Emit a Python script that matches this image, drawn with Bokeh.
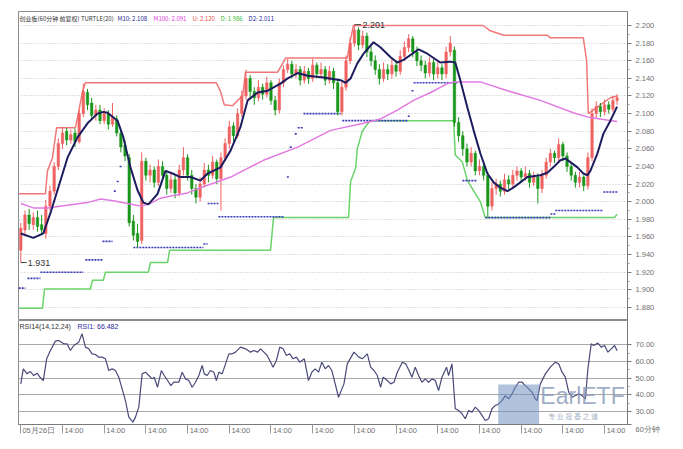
from bokeh.plotting import figure
from bokeh.layouts import column
from bokeh.models import Range1d, FixedTicker, Label, NumeralTickFormatter
from bokeh.core.properties import value
from bokeh.embed import file_html
from bokeh.resources import INLINE

# ---------------- data ----------------
O = [1.945, 1.968, 1.985, 1.974, 1.982, 1.974, 1.964, 1.995, 2.012, 2.040,
     2.066, 2.080, 2.070, 2.078, 2.068, 2.100, 2.124, 2.112, 2.098, 2.104,
     2.092, 2.100, 2.088, 2.094, 2.078, 2.064, 2.050, 1.978, 1.964, 1.956,
     2.046, 2.030, 2.036, 2.022, 2.040, 2.030, 2.015, 2.025, 2.010, 2.036,
     2.050, 2.030, 2.015, 2.005, 2.020, 2.036, 2.030, 2.045, 2.026, 2.050,
     2.066, 2.086, 2.075, 2.100, 2.120, 2.140, 2.125, 2.118, 2.130, 2.122,
     2.135, 2.115, 2.104, 2.135, 2.150, 2.156, 2.145, 2.150, 2.138, 2.148,
     2.140, 2.155, 2.145, 2.150, 2.138, 2.148, 2.135, 2.102, 2.130, 2.160,
     2.180, 2.195, 2.178, 2.188, 2.170, 2.160, 2.150, 2.140, 2.150, 2.145,
     2.155, 2.148, 2.165, 2.175, 2.185, 2.170, 2.160, 2.155, 2.146, 2.158,
     2.145, 2.152, 2.145, 2.170, 2.172, 2.090, 2.075, 2.060, 2.045, 2.055,
     2.035, 2.040, 2.030, 1.995, 2.015, 2.020, 2.012, 2.025, 2.020, 2.030,
     2.035, 2.028, 2.032, 2.022, 2.028, 2.015, 2.030, 2.045, 2.055, 2.050,
     2.065, 2.052, 2.040, 2.030, 2.022, 2.028, 2.018, 2.050, 2.100, 2.108,
     2.102, 2.110, 2.105, 2.115]
H = [1.976, 1.990, 1.992, 1.988, 1.990, 1.985, 2.002, 2.018, 2.045, 2.072,
     2.085, 2.084, 2.082, 2.083, 2.104, 2.134, 2.128, 2.118, 2.110, 2.110,
     2.106, 2.104, 2.112, 2.098, 2.082, 2.070, 2.054, 1.985, 1.975, 2.056,
     2.050, 2.042, 2.040, 2.048, 2.046, 2.036, 2.032, 2.030, 2.042, 2.062,
     2.054, 2.036, 2.020, 2.028, 2.044, 2.042, 2.052, 2.048, 2.056, 2.072,
     2.092, 2.090, 2.106, 2.126, 2.150, 2.144, 2.130, 2.138, 2.134, 2.142,
     2.138, 2.120, 2.140, 2.155, 2.162, 2.160, 2.156, 2.154, 2.154, 2.152,
     2.162, 2.158, 2.158, 2.154, 2.154, 2.152, 2.140, 2.136, 2.166, 2.186,
     2.201, 2.198, 2.194, 2.192, 2.176, 2.166, 2.156, 2.158, 2.156, 2.162,
     2.160, 2.172, 2.182, 2.190, 2.188, 2.176, 2.166, 2.160, 2.164, 2.162,
     2.160, 2.156, 2.176, 2.188, 2.176, 2.096, 2.080, 2.066, 2.062, 2.058,
     2.048, 2.046, 2.034, 2.022, 2.026, 2.024, 2.032, 2.030, 2.036, 2.040,
     2.038, 2.040, 2.036, 2.034, 2.032, 2.036, 2.050, 2.060, 2.058, 2.072,
     2.068, 2.056, 2.044, 2.034, 2.034, 2.030, 2.056, 2.106, 2.114, 2.112,
     2.116, 2.114, 2.120, 2.122]
L = [1.931, 1.962, 1.968, 1.968, 1.966, 1.962, 1.958, 1.990, 2.008, 2.036,
     2.060, 2.064, 2.066, 2.062, 2.066, 2.096, 2.104, 2.094, 2.092, 2.088,
     2.088, 2.082, 2.085, 2.074, 2.056, 2.046, 1.972, 1.956, 1.948, 1.952,
     2.024, 2.022, 2.016, 2.018, 2.024, 2.008, 2.010, 2.004, 2.006, 2.030,
     2.024, 2.008, 1.998, 2.000, 2.016, 2.022, 2.026, 2.020, 1.990, 2.046,
     2.060, 2.068, 2.072, 2.096, 2.116, 2.118, 2.110, 2.114, 2.116, 2.118,
     2.110, 2.098, 2.100, 2.130, 2.146, 2.140, 2.140, 2.132, 2.134, 2.134,
     2.136, 2.140, 2.140, 2.132, 2.134, 2.128, 2.098, 2.098, 2.126, 2.156,
     2.176, 2.172, 2.174, 2.164, 2.154, 2.144, 2.133, 2.136, 2.138, 2.140,
     2.142, 2.144, 2.160, 2.170, 2.164, 2.154, 2.148, 2.140, 2.142, 2.138,
     2.140, 2.138, 2.140, 2.165, 2.085, 2.068, 2.052, 2.040, 2.040, 2.030,
     2.030, 2.024, 1.982, 1.990, 2.008, 2.006, 2.008, 2.014, 2.016, 2.024,
     2.022, 2.024, 2.016, 2.018, 1.998, 2.010, 2.026, 2.040, 2.044, 2.046,
     2.046, 2.034, 2.024, 2.016, 2.016, 2.012, 2.014, 2.046, 2.094, 2.096,
     2.098, 2.100, 2.102, 2.110]
C = [1.970, 1.985, 1.975, 1.982, 1.972, 1.968, 1.995, 2.012, 2.040, 2.066,
     2.078, 2.070, 2.076, 2.068, 2.100, 2.125, 2.110, 2.098, 2.104, 2.092,
     2.100, 2.088, 2.096, 2.078, 2.062, 2.052, 1.976, 1.962, 1.955, 2.046,
     2.030, 2.036, 2.022, 2.040, 2.030, 2.015, 2.025, 2.010, 2.036, 2.050,
     2.030, 2.015, 2.005, 2.020, 2.036, 2.030, 2.045, 2.026, 2.050, 2.066,
     2.085, 2.075, 2.100, 2.120, 2.140, 2.125, 2.118, 2.130, 2.122, 2.135,
     2.115, 2.104, 2.135, 2.150, 2.156, 2.145, 2.150, 2.138, 2.148, 2.140,
     2.155, 2.145, 2.150, 2.138, 2.148, 2.135, 2.102, 2.130, 2.160, 2.180,
     2.195, 2.178, 2.188, 2.170, 2.160, 2.150, 2.140, 2.150, 2.145, 2.155,
     2.148, 2.165, 2.175, 2.185, 2.170, 2.160, 2.155, 2.146, 2.158, 2.145,
     2.152, 2.145, 2.170, 2.180, 2.090, 2.075, 2.060, 2.045, 2.055, 2.035,
     2.040, 2.030, 1.995, 2.015, 2.020, 2.012, 2.025, 2.020, 2.030, 2.035,
     2.028, 2.032, 2.022, 2.028, 2.015, 2.030, 2.045, 2.055, 2.050, 2.065,
     2.052, 2.040, 2.030, 2.022, 2.028, 2.018, 2.050, 2.100, 2.108, 2.102,
     2.110, 2.105, 2.115, 2.118]

# M10 (navy) read at bar positions
m10_bar = [0, 3.0, 5.4, 7.1, 8.8, 11.2, 13.6, 16.0, 18.4, 19.8, 20.8, 23.2, 24.6,
           26.3, 28.0, 29.4, 30.6, 32.8, 34.7, 36.4, 38.3, 40.7, 43.1, 44.8, 47.9,
           50.3, 52.7, 54.4, 56.8, 59.2, 62.3, 64.0, 66.4, 68.8, 72.6, 76.7, 77.9,
           79.1, 80.7, 82.2, 84.6, 86.3, 88.7, 90.3, 91.8, 95.4, 97.5, 100.6, 103.0,
           104.2, 105.4, 107.1, 108.6, 110.2, 111.9, 113.4, 115.0, 116.7, 118.1,
           119.8, 121.5, 124.6, 126.3, 127.7, 129.4, 130.6, 131.8, 133.5, 134.9,
           135.9, 136.6, 138.3, 139.7, 141.4, 143.0]
m10_val = [1.964, 1.959, 1.964, 1.987, 2.013, 2.050, 2.073, 2.089, 2.100, 2.102,
           2.101, 2.092, 2.073, 2.039, 2.013, 1.999, 1.997, 2.009, 2.035, 2.032,
           2.028, 2.028, 2.024, 2.032, 2.039, 2.058, 2.085, 2.115, 2.124, 2.126,
           2.134, 2.140, 2.146, 2.143, 2.141, 2.138, 2.135, 2.140, 2.157, 2.168,
           2.181, 2.175, 2.164, 2.158, 2.161, 2.173, 2.168, 2.158, 2.159, 2.158,
           2.138, 2.107, 2.081, 2.055, 2.032, 2.022, 2.016, 2.012, 2.016, 2.022,
           2.028, 2.030, 2.033, 2.039, 2.047, 2.049, 2.045, 2.039, 2.032, 2.030,
           2.035, 2.055, 2.077, 2.092, 2.108]

# M100 (violet)
m100_bar = [0, 3.0, 6.4, 11.2, 16.0, 19.1, 22.2, 25.6, 28.7, 30.6, 33.5, 36.6,
            40.0, 43.1, 46.2, 50.3, 58.2, 66.4, 74.3, 82.2, 86.3, 90.3, 94.2, 98.3,
            102.3, 103.8, 110.2, 116.7, 124.6, 132.5, 136.1, 143.0]
m100_val = [1.998, 1.993, 1.993, 1.996, 1.999, 2.003, 2.001, 1.998, 1.995, 1.997,
            2.004, 2.007, 2.010, 2.016, 2.021, 2.028, 2.047, 2.062, 2.081, 2.089,
            2.094, 2.104, 2.115, 2.124, 2.134, 2.136, 2.136, 2.126, 2.115, 2.101,
            2.096, 2.091]

# Turtle upper channel U (red)
u_bar = [-0.5, 5.9, 6.4, 7.6, 8.6, 13.1, 13.8, 14.8, 15.5, 46.9, 47.9, 48.8, 50.8,
         52.0, 53.2, 53.9, 61.6, 63.5, 78.3, 79.1, 79.8, 110.9, 112.6, 115.8, 126.3,
         127.0, 134.9, 135.7, 136.1, 139.0, 141.4, 143.0]
u_val = [2.009, 2.009, 2.035, 2.050, 2.084, 2.084, 2.100, 2.125, 2.135, 2.135,
         2.125, 2.110, 2.109, 2.115, 2.120, 2.147, 2.147, 2.163, 2.163, 2.185,
         2.200, 2.200, 2.194, 2.189, 2.189, 2.186, 2.186, 2.160, 2.100, 2.110,
         2.118, 2.120]

# Turtle lower channel D (green)
d_bar = [-0.5, 5.2, 5.7, 16.7, 17.2, 19.8, 20.3, 30.6, 31.1, 35.2, 35.7, 59.9,
         60.6, 78.6, 79.1, 80.3, 80.7, 81.9, 83.1, 83.8, 103.8, 104.2, 105.9,
         107.1, 110.2, 111.4, 142.4, 143.0]
d_val = [1.879, 1.879, 1.901, 1.901, 1.911, 1.911, 1.920, 1.920, 1.931, 1.931,
         1.945, 1.945, 1.982, 1.982, 2.023, 2.038, 2.060, 2.080, 2.088, 2.092,
         2.092, 2.053, 2.045, 2.024, 2.000, 1.982, 1.982, 1.986]

# D2 (blue dotted pieces)
d2_x0 = [-0.5, 1.6, 4.7, 15.5, 19.6, 22.3, 23.0, 23.7, 27.0, 43.8, 44.8, 47.4, 63.8,
         64.5, 65.7, 66.4, 67.8, 77.1, 92.8, 93.7, 94.2, 105.9, 111.4, 127.0,
         128.2, 139.7]
d2_x1 = [1.1, 4.7, 15.0, 19.6, 22.0, 22.9, 23.6, 24.3, 43.8, 44.8, 47.4, 63.0, 64.4,
         65.1, 66.3, 67.6, 76.7, 92.7, 93.4, 94.3, 104.7, 109.5, 127.0, 128.2,
         139.5, 143.3]
d2_val = [1.902, 1.913, 1.920, 1.934, 1.955, 2.012, 2.023, 2.040, 1.948, 1.952,
          1.998, 1.983, 2.028, 2.062, 2.077, 2.084, 2.100, 2.092, 2.097, 2.126,
          2.135, 2.024, 1.982, 1.986, 1.990, 2.011]

# RSI
rsi_bar = [0, 0.6, 1.5, 2.3, 3.1, 3.9, 4.6, 5.4, 6.2, 7.1, 8.3, 9.1, 10.3, 11.1, 11.9,
           12.7, 13.9, 14.7, 15.5, 16.3, 17.1, 17.9, 18.7, 19.5, 20.3, 21.1, 21.9,
           22.7, 23.5, 24.3, 25.1, 25.9, 26.9, 27.5, 28.3, 29.1, 29.9, 30.7, 31.5,
           32.0, 32.8, 33.7, 34.4, 35.2, 36.0, 36.7, 37.9, 38.7, 39.5, 40.3, 41.1,
           41.9, 42.7, 43.5, 44.0, 44.7, 45.5, 46.3, 46.9, 47.5, 48.3, 49.1, 49.9,
           50.7, 51.5, 52.7, 53.9, 55.1, 55.9, 56.8, 57.5, 58.3, 59.1, 59.7, 60.5,
           61.3, 62.1, 62.9, 63.7, 64.5, 65.3, 66.1, 66.9, 68.0, 69.0, 69.8, 70.6,
           71.4, 72.2, 73.0, 73.8, 74.6, 75.4, 76.2,
           77.5, 78.3, 79.9, 81.1, 81.9, 83.1, 83.9, 84.7, 85.5, 86.3,
           86.9, 87.9, 88.7, 89.5, 90.3, 91.5, 92.3, 93.1, 93.8, 94.6,
           95.4, 96.2, 97.0, 97.8, 98.6, 99.4, 100.2, 101.0, 102.1, 102.6,
           103.4, 104.2, 105.0, 105.8, 106.6, 107.4, 108.2, 109.0, 109.8, 110.6,
           111.4, 112.2, 113.0, 113.8, 114.6, 115.4, 116.2, 117.0, 117.8, 118.6,
           119.4, 120.2, 121.0, 121.8, 122.6, 123.4, 123.8, 124.6, 125.8, 127.0,
           128.2, 129.0, 129.8, 130.6, 131.4, 132.2, 133.0, 133.8, 134.6, 135.4,
           136.0, 136.8, 137.4, 138.4, 139.2, 140.0, 140.8, 141.6, 142.4, 143.0]
rsi_val = [46.6, 55.6, 52.6, 54.0, 51.6, 53.0, 50.6, 48.6, 61.6, 66.6,
           72.2, 72.6, 70.6, 70.6, 66.6, 69.6, 71.6, 76.6, 68.6, 67.6,
           64.6, 64.2, 62.6, 62.6, 61.6, 54.6, 55.6, 54.6, 50.6, 43.6,
           36.6, 26.7, 23.7, 26.7, 32.7, 52.6, 53.6, 51.6, 49.6, 50.6,
           44.6, 54.6, 51.6, 48.6, 45.6, 47.6, 47.6, 53.6, 49.6, 48.6,
           44.6, 47.6, 51.6, 57.6, 52.6, 51.6, 54.6, 53.6, 48.6, 53.6,
           52.6, 58.6, 64.6, 64.6, 65.6, 68.6, 67.6, 65.6, 66.6, 65.6,
           67.6, 65.6, 63.6, 60.6, 56.6, 60.6, 68.6, 67.6, 63.6, 64.6,
           61.6, 62.6, 59.6, 61.6, 48.6, 53.6, 55.6, 53.6, 59.6, 55.6,
           57.6, 54.6, 46.6, 38.6,
           46.6, 58.6, 65.6, 62.6, 61.6, 64.6, 56.6, 54.6, 51.6, 44.6,
           50.6, 48.6, 46.6, 47.6, 53.6, 59.6, 58.6, 54.6, 50.6, 56.6,
           51.6, 47.6, 49.6, 47.6, 49.6, 48.6, 42.6, 50.6, 56.6, 51.6,
           58.6, 31.7, 30.7, 28.7, 25.7, 30.7, 29.7, 32.7, 30.7, 27.7,
           24.7, 25.7, 31.7, 33.7, 34.6, 36.6, 39.6, 37.6, 40.6, 44.6,
           47.6, 47.6, 45.6, 43.6, 41.6, 37.6, 36.6, 46.6, 52.6, 56.6,
           59.6, 58.6, 53.6, 50.6, 41.6, 38.6, 39.6, 40.6, 39.6, 37.6,
           55.6, 70.6, 69.6, 71.0, 68.6, 69.6, 65.6, 67.6, 69.6, 66.482]

price_ticks = [1.880, 1.900, 1.920, 1.940, 1.960, 1.980, 2.000, 2.020, 2.040,
               2.060, 2.080, 2.100, 2.120, 2.140, 2.160, 2.180, 2.200]
rsi_ticks = [30, 40, 50, 60, 70]
x_tick_bars = [0, 10, 20, 30, 40, 50, 60, 70, 80, 90, 100, 110, 120, 130, 140]
x_tick_labels = ["05月26日"] + ["14:00"] * 14
period_label = "60分钟"

# ---------------- styling ----------------
UP = "#ef6262"
DN = "#1a961a"
FONT = "Liberation Sans"
CJK = "Noto Sans CJK SC"
BAR_PX = 609 / 146.05          # pixels per bar
LABEL_SHIFT_PX = [18] + [11.5] * 14   # half label width + gap, so labels start at the tick

xr = Range1d(-0.55, 145.5)

p1 = figure(frame_width=609, frame_height=309, min_border_left=18, min_border_right=40,
            min_border_top=11, min_border_bottom=0, x_range=xr,
            y_range=Range1d(1.8652, 2.2159), y_axis_location="right",
            x_axis_location=None, toolbar_location=None, output_backend="svg")
p1.outline_line_color = "#8c8c8c"
p1.xgrid.grid_line_color = None
p1.ygrid.ticker = FixedTicker(ticks=price_ticks)
p1.ygrid.grid_line_color = "#c4c4c4"
p1.ygrid.grid_line_dash = "1 2"
yax = p1.yaxis[0]
yax.ticker = FixedTicker(ticks=price_ticks,
                         minor_ticks=[t + 0.01 for t in price_ticks[:-1]])
yax.formatter = NumeralTickFormatter(format="0.000")
yax.major_label_text_font = FONT
yax.major_label_text_font_size = "7.5px"
yax.major_label_text_color = "#707070"
yax.axis_line_color = "#7a7a7a"
yax.major_tick_line_color = "#7a7a7a"
yax.minor_tick_line_color = "#9a9a9a"
yax.major_tick_out = 4
yax.major_tick_in = 0
yax.minor_tick_out = 2
yax.minor_tick_in = 0
yax.major_label_standoff = 4

# channel lines
p1.line(u_bar, u_val, line_color="#f07878", line_width=1.5)
p1.line(d_bar, d_val, line_color="#6ad46a", line_width=1.5)
p1.segment(x0=d2_x0, y0=d2_val, x1=d2_x1, y1=d2_val, line_color="#3a3ab8",
           line_width=1.6, line_dash="2 1")

# candles
xs = list(range(len(C)))
cols = [UP if c >= o else DN for o, c in zip(O, C)]
tops = [max(o, c) for o, c in zip(O, C)]
bots = [min(o, c) for o, c in zip(O, C)]
p1.segment(x0=xs, y0=L, x1=xs, y1=H, line_color=cols, line_width=1)
p1.vbar(x=xs, width=0.6, top=tops, bottom=bots, fill_color=cols, line_color=cols,
        line_width=0.5)

# moving averages
p1.line(m100_bar, m100_val, line_color="#e27ae2", line_width=1.5)
p1.line(m10_bar, m10_val, line_color="#1c1c5e", line_width=2)

# high / low markers
hi_i = max(range(len(H)), key=lambda i: H[i])
lo_i = min(range(len(L)), key=lambda i: L[i])
p1.segment(x0=[hi_i], y0=[H[hi_i]], x1=[hi_i + 1.6], y1=[H[hi_i]], line_color="#444444",
           line_width=1)
p1.text(x=[hi_i], y=[H[hi_i]], text=[f"{H[hi_i]:.3f}"], x_offset=8,
        text_baseline="middle", text_font=value(FONT), text_font_size="9px",
        text_color="#333333")
p1.segment(x0=[lo_i], y0=[L[lo_i]], x1=[lo_i + 1.4], y1=[L[lo_i]], line_color="#444444",
           line_width=1)
p1.text(x=[lo_i], y=[L[lo_i]], text=[f"{L[lo_i]:.3f}"], x_offset=7,
        text_baseline="middle", text_font=value(FONT), text_font_size="9px",
        text_color="#333333")

# title pieces
title_parts = ["创业板(60分钟 前复权) TURTLE(20)",
               f"M10: {m10_val[-1]:.3f}", f"M100: {m100_val[-1]:.3f}",
               f"U: {u_val[-1]:.3f}", f"D: {d_val[-1]:.3f}", f"D2: {d2_val[-1]:.3f}"]
title_colors = ["#333333", "#22228a", "#e040e0", "#f05050", "#3cbc3c", "#2a2aa0"]
title_offsets = [0, 98, 134, 173, 201, 229]
for t, c, off in zip(title_parts, title_colors, title_offsets):
    p1.text(x=[-0.3], y=[2.2079], text=[t], x_offset=off, text_baseline="middle",
            text_font=value(CJK), text_font_size="6px", text_color=c)

# ---------------- RSI panel ----------------
p2 = figure(frame_width=609, frame_height=104, min_border_left=18, min_border_right=40,
            min_border_top=0, min_border_bottom=4, x_range=xr,
            y_range=Range1d(22.28, 84.55), y_axis_location="right",
            toolbar_location=None, output_backend="svg")
p2.outline_line_color = "#8c8c8c"
p2.xgrid.grid_line_color = None
p2.ygrid.ticker = FixedTicker(ticks=rsi_ticks)
p2.ygrid.grid_line_color = "#a8a8a8"
p2.ygrid.grid_line_width = 1
ry = p2.yaxis[0]
ry_ticks = rsi_ticks + [22.3]
ry.ticker = FixedTicker(ticks=ry_ticks, minor_ticks=[t + 5 for t in rsi_ticks[:-1]])
ry.formatter = NumeralTickFormatter(format="0.00")
ry.major_label_overrides = {22.3: "\n" + period_label}
ry.major_label_text_font = FONT
ry.major_label_text_font_size = "7.5px"
ry.major_label_text_color = "#707070"
ry.axis_line_color = "#7a7a7a"
ry.major_tick_line_color = "#7a7a7a"
ry.minor_tick_line_color = "#9a9a9a"
ry.major_tick_out = 4
ry.major_tick_in = 0
ry.minor_tick_out = 2
ry.minor_tick_in = 0
ry.major_label_standoff = 4

# x axis: labels centred just right of the visible tick marks (drawn as minor ticks)
xa = p2.xaxis[0]
label_centres = [b + s / BAR_PX for b, s in zip(x_tick_bars, LABEL_SHIFT_PX)]
xa.ticker = FixedTicker(ticks=label_centres, minor_ticks=x_tick_bars)
xa.major_label_overrides = {c: s for c, s in zip(label_centres, x_tick_labels)}
xa.major_label_text_font = FONT
xa.major_label_text_font_size = "7.5px"
xa.major_label_text_color = "#707070"
xa.axis_line_color = "#7a7a7a"
xa.major_tick_line_color = None
xa.minor_tick_line_color = "#9a9a9a"
xa.minor_tick_out = 9
xa.minor_tick_in = 0
xa.major_tick_out = 9
xa.major_tick_in = 0
xa.major_label_standoff = -8

p2.line(rsi_bar, rsi_val, line_color="#4a4a7a", line_width=1.2)

p2.text(x=[-0.3], y=[80.96], text=["RSI14(14,12,24)"], text_baseline="middle",
        text_font=value(FONT), text_font_size="7px", text_color="#333333")
p2.text(x=[-0.3], y=[80.96], text=[f"RSI1: {rsi_val[-1]:.3f}"], x_offset=58,
        text_baseline="middle", text_font=value(FONT), text_font_size="7px",
        text_color="#2a2aa0")

# watermark
p2.quad(left=[114.5], right=[124.3], top=[46.2], bottom=[21.7],
        fill_color="#6f8fc0", fill_alpha=0.55, line_color=None)
p2.add_layout(Label(x=124.6, y=31.85, text="EarlETF", text_font=FONT,
                    text_font_size="23px", text_color="#8798b8", text_alpha=0.8))
p2.add_layout(Label(x=126.5, y=24.1, text="专 业 投 基 之 道", text_font=CJK,
                    text_font_size="7px", text_color="#9aa8c0", text_alpha=0.9))

layout = column(p1, p2)
open("out.html", "w").write(file_html(layout, INLINE))
